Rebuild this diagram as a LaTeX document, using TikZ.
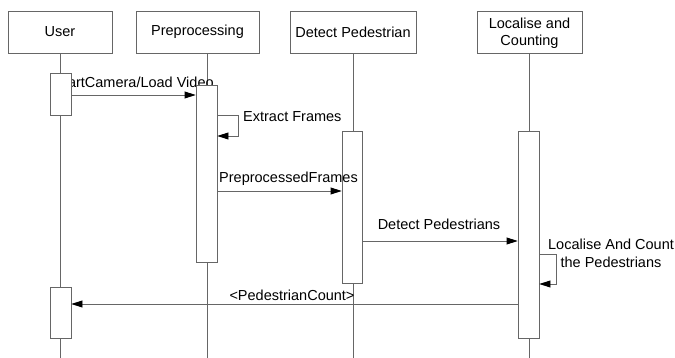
\documentclass[tikz,border=0pt]{standalone}
\usepackage{fontspec}
\setmainfont{Liberation Sans}
\usetikzlibrary{arrows.meta,calc}
\definecolor{ln}{HTML}{666666}
\pgfdeclarelayer{back}
\pgfsetlayers{back,main}
\begin{document}
\begin{tikzpicture}[x=1pt,y=-1pt,
 hdr/.style={draw=ln,line width=0.8pt,fill=white,align=center,inner sep=0pt,minimum height=42pt,font=\fontsize{14.5}{17}\selectfont},
 act/.style={draw=ln,line width=0.8pt,fill=white,inner sep=0pt,minimum width=21pt},
 life/.style={draw=ln,line width=0.8pt},
 msg/.style={draw=ln,line width=0.8pt,-{Triangle[length=11pt,width=7pt,color=black]}},
 lbl/.style={font=\fontsize{14.5}{18}\selectfont,inner sep=0pt,align=center}]
\useasboundingbox (0,0) rectangle (675,358);
% headers
\node[hdr,minimum width=104pt] (user) at (60,32) {User};
\node[hdr,minimum width=123pt] (prep) at (197.5,32) {Preprocessing};
\node[hdr,minimum width=126pt] (det) at (353,32) {Detect Pedestrian};
\node[hdr,minimum width=105pt,text depth=0pt] (loc) at (529.5,32) {Localise and\\Counting};
% bottom ends of lifelines
\coordinate (ub) at (60,358);
\coordinate (pb) at (207,358);
\coordinate (db) at (353,358);
\coordinate (lb) at (529,358);
% activation boxes
\node[act,minimum height=42pt] (ua1) at (60.5,94) {};
\node[act,minimum height=51pt] (ua2) at (60.5,312.5) {};
\node[act,minimum height=177pt] (pa) at (206.5,173.5) {};
\node[act,minimum height=152pt,minimum width=20pt] (da) at (352,207) {};
\node[act,minimum height=207pt] (la) at (528.5,234.5) {};
\begin{pgfonlayer}{back}
\draw[life] (user.south -| ub) -- (ub);
\draw[life] (prep.south -| pb) -- (pb);
\draw[life] (det.south -| db) -- (db);
\draw[life] (loc.south -| lb) -- (lb);
\node[lbl,anchor=base] (l1) at (134,88) {StartCamera/Load Video};
\node[lbl,anchor=base west] (l2) at (243,122) {Extract Frames};
\node[lbl,anchor=base] (l4) at (439,230) {Detect Pedestrians};
\node[lbl] (l5) at (611,253) {Localise And Count\\the Pedestrians};
\node[lbl,anchor=base] (l6) at (292,300) {<PedestrianCount>};
\end{pgfonlayer}
\node[lbl,anchor=base west] (l3) at (219,183) {PreprocessedFrames};
% messages
\draw[msg] (ua1.east |- 0,95) -- (pa.west |- 0,95);
\draw[msg] (pa.east |- 0,115) -- (238,115) -- (238,136) -- (pa.east |- 0,136);
\draw[msg] (pa.east |- 0,191) -- (da.west |- 0,191);
\draw[msg] (da.east |- 0,241) -- (la.west |- 0,241);
\draw[msg] (la.east |- 0,254) -- (556,254) -- (556,284) -- (la.east |- 0,284);
\draw[msg] (la.west |- 0,304) -- (ua2.east |- 0,304);
\end{tikzpicture}
\end{document}
